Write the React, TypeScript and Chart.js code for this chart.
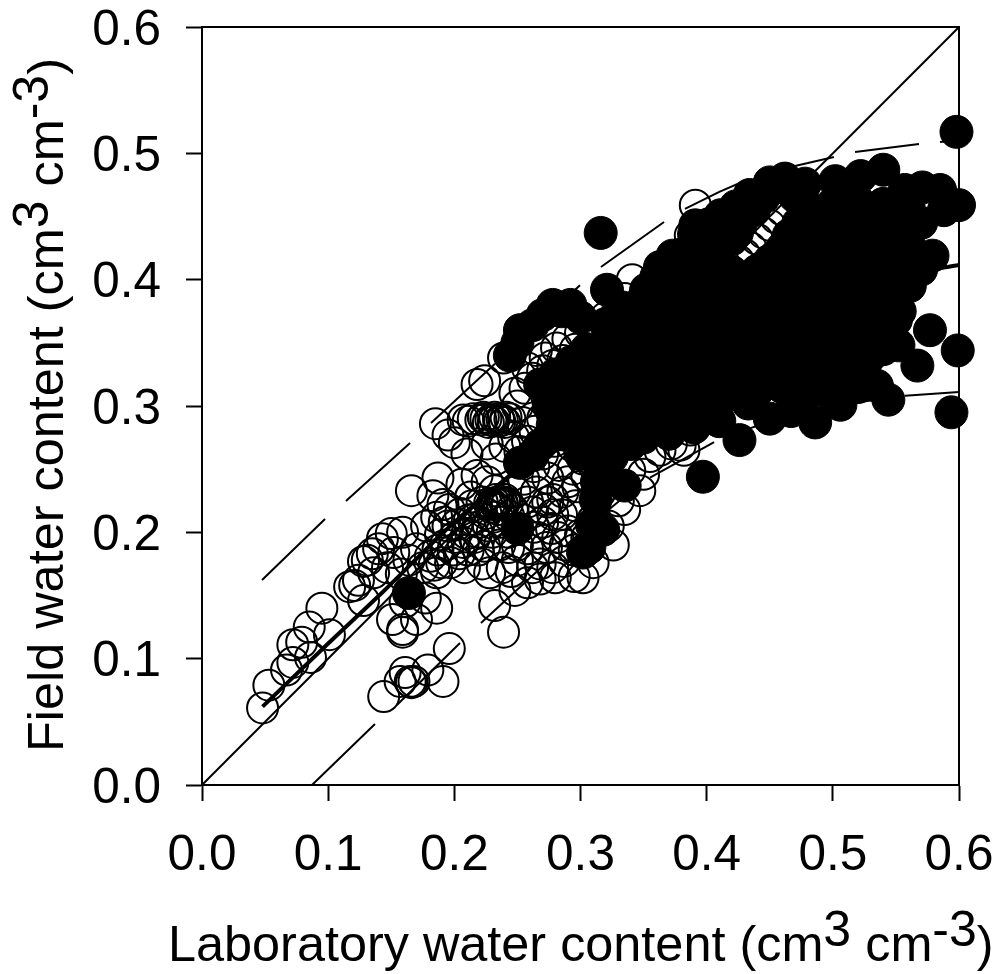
import React, { useEffect, useRef } from "react";
import { Chart, registerables } from "chart.js";

Chart.register(...registerables);

type P = [number, number];

const tickValues = [0, 0.1, 0.2, 0.3, 0.4, 0.5, 0.6];

const xTitleRuns = [
  { t: "Laboratory water content (cm", sup: false },
  { t: "3", sup: true },
  { t: " cm", sup: false },
  { t: "-3", sup: true },
  { t: ")", sup: false },
];
const yTitleRuns = [
  { t: "Field water content (cm", sup: false },
  { t: "3", sup: true },
  { t: " cm", sup: false },
  { t: "-3", sup: true },
  { t: ")", sup: false },
];

const identityLine: P[] = [[0, 0], [0.6, 0.6]];
const fitLine: P[] = [[0.048, 0.062], [0.1, 0.112], [0.1435, 0.153], [0.2, 0.208], [0.25, 0.25], [0.3, 0.29], [0.35, 0.327], [0.4, 0.358], [0.45, 0.381], [0.5, 0.396], [0.55, 0.405], [0.585, 0.409], [0.6, 0.4117]];
const upperDashes: P[][] = [
  [[0.0476, 0.1622], [0.0975, 0.2106]],
  [[0.1141, 0.2248], [0.1649, 0.2707]],
  [[0.1815, 0.2865], [0.2322, 0.3335]],
  [[0.2489, 0.3488], [0.2996, 0.3955]],
  [[0.3162, 0.41], [0.3662, 0.4456]],
  [[0.3828, 0.456], [0.41, 0.4695], [0.4336, 0.4797]],
  [[0.4502, 0.4855], [0.5009, 0.4971]],
  [[0.5176, 0.5011], [0.5683, 0.5074]],
  [[0.5849, 0.509], [0.6, 0.5106]],
];
const lowerDashes: P[][] = [
  [[0.0872, 0], [0.1371, 0.0483]],
  [[0.1545, 0.0633], [0.2045, 0.1124]],
  [[0.2211, 0.1282], [0.2719, 0.175]],
  [[0.2885, 0.19], [0.3393, 0.232]],
  [[0.3551, 0.2433], [0.4059, 0.2715]],
  [[0.4225, 0.2785], [0.4732, 0.295]],
  [[0.4898, 0.2985], [0.5406, 0.306]],
  [[0.5572, 0.3082], [0.6, 0.3111]],
];

const openTail: P[] = [[0.048, 0.061], [0.053, 0.079], [0.067, 0.091], [0.072, 0.097], [0.072, 0.111], [0.079, 0.113], [0.085, 0.125], [0.086, 0.101], [0.101, 0.119], [0.095, 0.14]];
const openLowCluster: P[] = [[0.144, 0.07], [0.157, 0.082], [0.161, 0.089], [0.165, 0.082], [0.166, 0.081], [0.168, 0.082], [0.179, 0.091], [0.191, 0.082], [0.196, 0.108], [0.159, 0.121], [0.159, 0.123], [0.151, 0.131], [0.17, 0.131], [0.186, 0.14], [0.161, 0.145], [0.177, 0.148]];
const openLowerLeft: P[] = [[0.117, 0.157], [0.121, 0.158], [0.128, 0.146], [0.124, 0.162], [0.128, 0.177], [0.131, 0.178], [0.135, 0.183], [0.14, 0.187], [0.143, 0.195], [0.15, 0.199], [0.159, 0.2], [0.166, 0.233], [0.187, 0.243], [0.183, 0.229], [0.185, 0.286], [0.136, 0.168], [0.147, 0.172], [0.152, 0.184], [0.158, 0.167], [0.164, 0.178], [0.17, 0.187], [0.175, 0.172], [0.181, 0.181], [0.186, 0.168], [0.19, 0.176], [0.193, 0.19], [0.178, 0.205], [0.186, 0.212], [0.191, 0.222], [0.195, 0.205], [0.2, 0.196], [0.204, 0.183], [0.208, 0.172], [0.197, 0.176], [0.21, 0.199], [0.215, 0.21], [0.206, 0.238], [0.213, 0.228], [0.2, 0.271], [0.21, 0.262], [0.218, 0.245], [0.195, 0.277]];
const openDenseBand: P[] = [[0.184, 0.174], [0.187, 0.186], [0.189, 0.198], [0.192, 0.208], [0.196, 0.218], [0.199, 0.186], [0.202, 0.206], [0.205, 0.215], [0.207, 0.192], [0.211, 0.186], [0.212, 0.21], [0.214, 0.221], [0.216, 0.196], [0.219, 0.186], [0.22, 0.208], [0.222, 0.224], [0.225, 0.215], [0.227, 0.205], [0.229, 0.22], [0.231, 0.212], [0.233, 0.226], [0.235, 0.218], [0.237, 0.208], [0.24, 0.226], [0.243, 0.2], [0.246, 0.218], [0.25, 0.19], [0.254, 0.21], [0.258, 0.224], [0.262, 0.216], [0.266, 0.196], [0.27, 0.208], [0.274, 0.224], [0.278, 0.214], [0.282, 0.196], [0.286, 0.232], [0.29, 0.24], [0.294, 0.25], [0.298, 0.236], [0.302, 0.258], [0.252, 0.264], [0.258, 0.272], [0.264, 0.28], [0.27, 0.29], [0.276, 0.298], [0.282, 0.31], [0.288, 0.298], [0.25, 0.3], [0.256, 0.314], [0.262, 0.322], [0.27, 0.328], [0.278, 0.332], [0.286, 0.336], [0.296, 0.345], [0.303, 0.338]];
const openRingCluster: P[] = [[0.228, 0.223], [0.23, 0.222], [0.232, 0.223], [0.234, 0.224], [0.236, 0.222], [0.238, 0.223], [0.24, 0.224], [0.242, 0.223], [0.207, 0.289], [0.211, 0.288], [0.215, 0.29], [0.223, 0.291], [0.227, 0.287], [0.231, 0.288], [0.236, 0.288], [0.24, 0.287], [0.268, 0.163], [0.295, 0.165], [0.278, 0.172], [0.258, 0.16], [0.262, 0.172], [0.288, 0.19], [0.3, 0.198], [0.31, 0.21], [0.305, 0.196]];
const openCentre: P[] = [[0.218, 0.317], [0.224, 0.32], [0.239, 0.338], [0.221, 0.289], [0.225, 0.29], [0.229, 0.289], [0.232, 0.291], [0.235, 0.29], [0.238, 0.289], [0.241, 0.291], [0.244, 0.29], [0.248, 0.31], [0.258, 0.33], [0.265, 0.344], [0.272, 0.338], [0.281, 0.346], [0.29, 0.353], [0.3, 0.358], [0.226, 0.27], [0.233, 0.258], [0.24, 0.268], [0.247, 0.275], [0.254, 0.287], [0.226, 0.24], [0.232, 0.233], [0.238, 0.222], [0.243, 0.213], [0.248, 0.232], [0.255, 0.242], [0.263, 0.252], [0.27, 0.262], [0.279, 0.272], [0.286, 0.281], [0.294, 0.268], [0.283, 0.253], [0.274, 0.243], [0.265, 0.232], [0.218, 0.2], [0.224, 0.189], [0.23, 0.2], [0.236, 0.19], [0.243, 0.188], [0.25, 0.178], [0.222, 0.175], [0.228, 0.168], [0.238, 0.172], [0.245, 0.169], [0.258, 0.187], [0.263, 0.204], [0.271, 0.218], [0.278, 0.226], [0.285, 0.214], [0.29, 0.201], [0.296, 0.221], [0.277, 0.203], [0.273, 0.188], [0.268, 0.175]];
const openLowerRight: P[] = [[0.239, 0.121], [0.232, 0.142], [0.248, 0.154], [0.28, 0.164], [0.302, 0.164], [0.326, 0.19], [0.335, 0.218], [0.347, 0.233], [0.339, 0.249], [0.363, 0.265], [0.379, 0.269], [0.387, 0.281], [0.355, 0.26], [0.372, 0.27], [0.382, 0.265], [0.35, 0.246], [0.287, 0.177], [0.295, 0.186], [0.31, 0.176], [0.322, 0.205], [0.315, 0.231], [0.305, 0.245], [0.33, 0.225]];
const openUpper: P[] = [[0.391, 0.459], [0.387, 0.435], [0.341, 0.4], [0.335, 0.385], [0.31, 0.36], [0.32, 0.37], [0.425, 0.415], [0.43, 0.42], [0.435, 0.425], [0.44, 0.432], [0.445, 0.437], [0.45, 0.443], [0.455, 0.449], [0.46, 0.455]];

const filledSingles: P[] = [[0.164, 0.152], [0.25, 0.203], [0.316, 0.437], [0.598, 0.517], [0.594, 0.295], [0.599, 0.344], [0.397, 0.244], [0.426, 0.273], [0.411, 0.321]];
const filledUpperEdge: P[] = [[0.244, 0.34], [0.252, 0.36], [0.262, 0.364], [0.278, 0.38], [0.292, 0.38], [0.321, 0.392], [0.333, 0.378], [0.352, 0.392], [0.363, 0.41], [0.373, 0.419], [0.391, 0.443], [0.402, 0.444], [0.411, 0.451], [0.423, 0.458], [0.434, 0.467], [0.445, 0.465], [0.45, 0.477], [0.455, 0.473], [0.462, 0.48], [0.478, 0.476], [0.502, 0.478], [0.522, 0.482], [0.54, 0.487], [0.557, 0.471], [0.571, 0.473], [0.585, 0.471], [0.6, 0.459], [0.588, 0.455], [0.56, 0.458], [0.25, 0.35], [0.27, 0.372], [0.285, 0.375], [0.3, 0.37]];
const filledRightEdge: P[] = [[0.579, 0.419], [0.561, 0.395], [0.553, 0.375], [0.552, 0.348], [0.577, 0.36], [0.567, 0.332], [0.544, 0.305], [0.535, 0.316], [0.506, 0.301], [0.486, 0.287], [0.45, 0.29], [0.467, 0.296], [0.433, 0.302], [0.525, 0.33], [0.54, 0.345]];
const filledLowerArm: P[] = [[0.302, 0.184], [0.307, 0.188], [0.318, 0.202], [0.312, 0.226], [0.335, 0.237], [0.316, 0.249], [0.323, 0.273], [0.309, 0.206], [0.252, 0.255], [0.262, 0.261], [0.268, 0.269], [0.28, 0.289], [0.296, 0.305], [0.268, 0.317], [0.28, 0.325], [0.293, 0.335], [0.305, 0.345], [0.317, 0.263], [0.31, 0.288], [0.275, 0.275], [0.29, 0.277], [0.3, 0.262], [0.313, 0.24], [0.32, 0.255], [0.278, 0.285], [0.285, 0.31], [0.275, 0.3]];
const filledCoreA: P[] = [[0.32, 0.29], [0.34, 0.285], [0.36, 0.288], [0.38, 0.29], [0.4, 0.3], [0.42, 0.31], [0.44, 0.312], [0.33, 0.31], [0.35, 0.308], [0.37, 0.306], [0.39, 0.31], [0.41, 0.304], [0.43, 0.33], [0.46, 0.315], [0.48, 0.31], [0.5, 0.32], [0.52, 0.315], [0.31, 0.325], [0.325, 0.33], [0.345, 0.327], [0.365, 0.326], [0.385, 0.33], [0.405, 0.335], [0.455, 0.333], [0.47, 0.33], [0.49, 0.332], [0.51, 0.335], [0.53, 0.34], [0.33, 0.35], [0.35, 0.347], [0.37, 0.345], [0.39, 0.348], [0.46, 0.352], [0.48, 0.35], [0.5, 0.352], [0.52, 0.35], [0.54, 0.36], [0.32, 0.365], [0.34, 0.367], [0.36, 0.365], [0.38, 0.368], [0.4, 0.372], [0.42, 0.37], [0.44, 0.37], [0.47, 0.37], [0.49, 0.37], [0.51, 0.372], [0.53, 0.37], [0.55, 0.382]];
const filledCoreB: P[] = [[0.35, 0.385], [0.37, 0.387], [0.39, 0.385], [0.41, 0.388], [0.43, 0.39], [0.45, 0.388], [0.47, 0.39], [0.49, 0.389], [0.51, 0.39], [0.53, 0.388], [0.55, 0.4], [0.36, 0.402], [0.38, 0.405], [0.4, 0.404], [0.42, 0.406], [0.44, 0.407], [0.46, 0.406], [0.48, 0.407], [0.5, 0.406], [0.52, 0.407], [0.54, 0.408], [0.56, 0.412], [0.38, 0.42], [0.4, 0.422], [0.46, 0.425], [0.48, 0.424], [0.5, 0.425], [0.52, 0.426], [0.54, 0.425], [0.56, 0.428], [0.39, 0.436], [0.41, 0.438], [0.427, 0.445], [0.475, 0.44], [0.495, 0.442], [0.515, 0.442], [0.535, 0.443], [0.555, 0.444], [0.57, 0.445], [0.48, 0.458], [0.5, 0.46], [0.52, 0.462], [0.54, 0.46], [0.47, 0.466]];
const filledCoreC: P[] = [[0.33, 0.28], [0.35, 0.275], [0.37, 0.278], [0.39, 0.283], [0.41, 0.288], [0.33, 0.296], [0.35, 0.297], [0.37, 0.296], [0.39, 0.296], [0.32, 0.31], [0.34, 0.318], [0.36, 0.317], [0.38, 0.318], [0.4, 0.32], [0.42, 0.322], [0.44, 0.325], [0.46, 0.325], [0.48, 0.321], [0.5, 0.308], [0.52, 0.33], [0.335, 0.338], [0.355, 0.337], [0.375, 0.335], [0.395, 0.338], [0.415, 0.34], [0.46, 0.34], [0.48, 0.34], [0.5, 0.34], [0.52, 0.34], [0.34, 0.355], [0.36, 0.356], [0.38, 0.356], [0.43, 0.36], [0.45, 0.36], [0.47, 0.36], [0.49, 0.36], [0.51, 0.36], [0.53, 0.358], [0.33, 0.376], [0.35, 0.376], [0.37, 0.376], [0.39, 0.376], [0.41, 0.378], [0.43, 0.38], [0.45, 0.378], [0.47, 0.38], [0.49, 0.38], [0.51, 0.38], [0.53, 0.379], [0.55, 0.368], [0.36, 0.393], [0.38, 0.395], [0.4, 0.395], [0.42, 0.397], [0.44, 0.397], [0.46, 0.397], [0.48, 0.398], [0.5, 0.398], [0.52, 0.397], [0.54, 0.397], [0.37, 0.412], [0.39, 0.413], [0.41, 0.414], [0.45, 0.415], [0.47, 0.415], [0.49, 0.416], [0.51, 0.416], [0.53, 0.416], [0.55, 0.418], [0.57, 0.408], [0.4, 0.43], [0.42, 0.432], [0.475, 0.428], [0.49, 0.433], [0.51, 0.434], [0.53, 0.434], [0.55, 0.434], [0.49, 0.45], [0.51, 0.451], [0.53, 0.452], [0.55, 0.452], [0.476, 0.448], [0.42, 0.447]];
const filledHoleEdges: P[] = [[0.398, 0.35], [0.42, 0.355], [0.4, 0.362], [0.412, 0.368], [0.428, 0.345], [0.44, 0.335], [0.45, 0.35], [0.435, 0.352], [0.465, 0.435], [0.4725, 0.4445], [0.424, 0.437], [0.4375, 0.455], [0.48, 0.453], [0.435, 0.402], [0.445, 0.41], [0.455, 0.419]];
const filledLeftCore: P[] = [[0.29, 0.32], [0.3, 0.31], [0.31, 0.305], [0.295, 0.295], [0.305, 0.275], [0.325, 0.345], [0.34, 0.34], [0.33, 0.3], [0.31, 0.34], [0.285, 0.285], [0.31, 0.268], [0.325, 0.26], [0.34, 0.27]];

const openPoints: P[] = [...openTail, ...openLowCluster, ...openLowerLeft, ...openDenseBand, ...openRingCluster, ...openCentre, ...openLowerRight, ...openUpper];
const filledPoints: P[] = [...filledSingles, ...filledUpperEdge, ...filledRightEdge, ...filledLowerArm, ...filledCoreA, ...filledCoreB, ...filledCoreC, ...filledHoleEdges, ...filledLeftCore];

const asXY = (ps: P[]) => ps.map(([x, y]) => ({ x, y }));
const dashesToData = (dashes: P[][]) => dashes.flatMap((d) => [...asXY(d), { x: NaN, y: NaN }]);

const FONT = '"Liberation Sans", Arial, sans-serif';
const TICK_SIZE = 49.5;
const TITLE_SIZE = 50.4;
const SUP_SIZE = 50;
const SUP_RAISE = 15;

function drawRuns(ctx: CanvasRenderingContext2D, runs: { t: string; sup: boolean }[]) {
  let at = 0;
  ctx.textAlign = "left";
  ctx.textBaseline = "alphabetic";
  ctx.fillStyle = "#000";
  for (const r of runs) {
    ctx.font = `${r.sup ? SUP_SIZE : TITLE_SIZE}px ${FONT}`;
    ctx.fillText(r.t, at, r.sup ? -SUP_RAISE : 0);
    at += ctx.measureText(r.t).width;
  }
}

const framePlugin = {
  id: "frameAndTitles",
  afterDatasetsDraw(chart: any) {
    const { ctx, chartArea: a } = chart;
    ctx.save();
    ctx.strokeStyle = "#000";
    ctx.lineWidth = 2;
    ctx.beginPath();
    ctx.moveTo(a.left, a.top);
    ctx.lineTo(a.right, a.top);
    ctx.lineTo(a.right, a.bottom);
    ctx.stroke();
    ctx.restore();
  },
  afterDraw(chart: any) {
    const { ctx } = chart;
    ctx.save();
    ctx.translate(168, 961);
    drawRuns(ctx, xTitleRuns);
    ctx.restore();
    ctx.save();
    ctx.translate(63, 752);
    ctx.rotate(-Math.PI / 2);
    drawRuns(ctx, yTitleRuns);
    ctx.restore();
  },
};

const noPadding = (s: any) => {
  s.paddingLeft = 0;
  s.paddingRight = 0;
  s.paddingTop = 0;
  s.paddingBottom = 0;
};

export default function App() {
  const ref = useRef<HTMLCanvasElement>(null);
  useEffect(() => {
    document.body.style.margin = "0";
    const tickFont = { family: FONT, size: TICK_SIZE };
    const axis = (fit: (s: any) => void, padding: number, labelOffset: number) => ({
      type: "linear" as const,
      min: 0,
      max: 0.6,
      afterFit: (s: any) => {
        fit(s);
        noPadding(s);
      },
      afterBuildTicks: (s: any) => {
        s.ticks = tickValues.map((value) => ({ value }));
      },
      border: { display: true, color: "#000", width: 2 },
      grid: { drawOnChartArea: false, drawTicks: true, tickLength: 16, tickWidth: 2, tickColor: "#000" },
      ticks: { color: "#000", font: tickFont, padding, labelOffset, maxRotation: 0, callback: (v: any) => Number(v).toFixed(1) },
    });
    const lineSet = (data: any[], width: number) => ({
      type: "scatter" as const,
      data,
      showLine: true,
      spanGaps: false,
      borderColor: "#000",
      borderWidth: width,
      pointRadius: 0,
      order: 2,
    });
    const chart = new Chart(ref.current!, {
      type: "scatter",
      data: {
        datasets: [
          { data: asXY(filledPoints), backgroundColor: "#000", borderColor: "#000", borderWidth: 1, pointRadius: 16.5, clip: false, order: 0 },
          { data: asXY(openPoints), backgroundColor: "rgba(0,0,0,0)", borderColor: "#000", borderWidth: 2, pointRadius: 15.5, clip: false, order: 1 },
          lineSet(asXY(identityLine), 2),
          { ...lineSet(asXY(fitLine), 4), cubicInterpolationMode: "monotone" },
          lineSet(dashesToData(upperDashes), 2),
          lineSet(dashesToData(lowerDashes), 2),
        ] as any,
      },
      options: {
        animation: false,
        responsive: false,
        layout: { autoPadding: false, padding: { top: 27, right: 41, left: 0, bottom: 0 } },
        plugins: { legend: { display: false }, tooltip: { enabled: false } },
        scales: {
          x: axis((s) => { s.height = 189; }, 26, 0),
          y: axis((s) => { s.width = 202; }, 25, 4),
        },
      },
      plugins: [framePlugin],
    });
    return () => chart.destroy();
  }, []);
  return <canvas ref={ref} width={1000} height={974} style={{ display: "block", width: 1000, height: 974 }} />;
}
